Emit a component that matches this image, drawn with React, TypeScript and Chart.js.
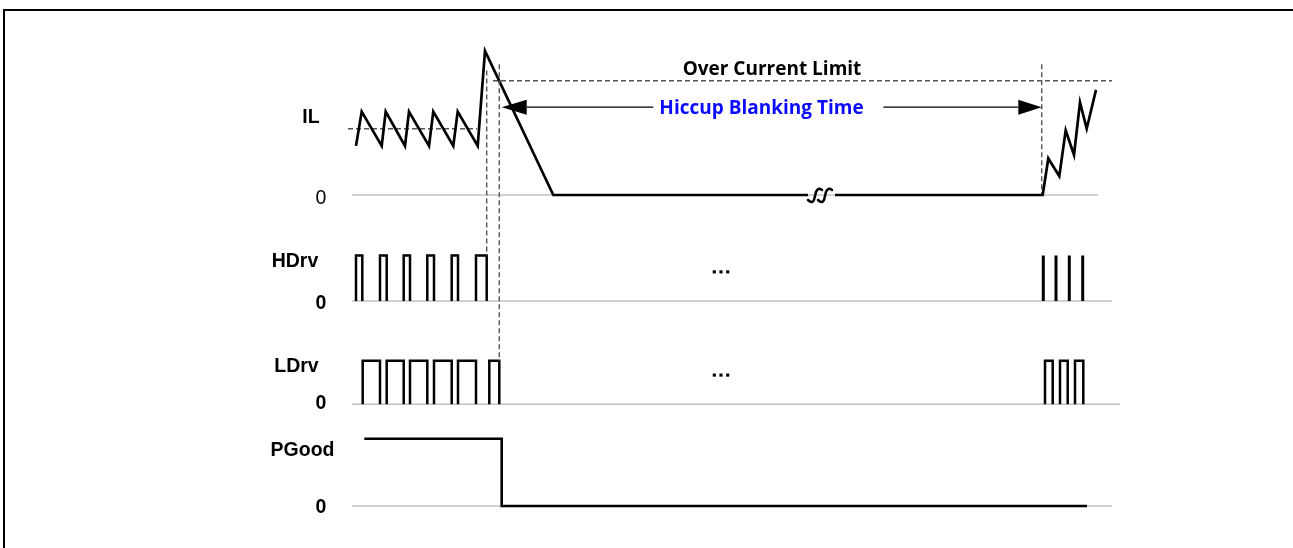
import { useEffect, useRef } from "react";
import { Chart, registerables } from "chart.js";

Chart.register(...registerables);

const W = 1293;
const H = 548;

// ---------- data (time in arbitrary units) ----------
// IL: inductor current, normalised so that Over Current Limit = 1
const ilTimesA = [356, 361.7, 381.7, 385.7, 405, 409, 429, 433.3, 453.3, 457.7, 477.7, 485, 553.3, 808];
const ilLevelsA = [0.43, 0.73, 0.43, 0.73, 0.43, 0.73, 0.43, 0.73, 0.43, 0.73, 0.43, 1.26, 0, 0];
const ilTimesB = [835, 1042.7, 1048.3, 1059.3, 1065.7, 1074, 1080, 1086.7, 1096];
const ilLevelsB = [0, 0, 0.32, 0.165, 0.565, 0.35, 0.81, 0.58, 0.92];
const ilAverageTimes = [348, 477];
const ilAverageLevel = 0.58;
const overCurrentTimes = [493, 1112];
const overCurrentLevel = 1;
const restartMarkerTime = 1041.7;
const restartMarkerTop = 1.145;

// HDrv pulses (rise / fall times), level 0/1
const hdrvRise = [356, 380, 403.7, 427.3, 451.7, 476];
const hdrvFall = [362.3, 386.7, 410, 434, 458, 486.7];
// HDrv narrow pulses after restart
const hdrvSpikes = [1043.3, 1056, 1069.3, 1082.7];

// LDrv pulses
const ldrvRise = [362.7, 386.7, 410, 434, 458, 489.3, 1045, 1060, 1075];
const ldrvFall = [380, 403.7, 427.3, 451.7, 476, 499.3, 1052.7, 1067.7, 1083.3];

// PGood
const pgTimes = [364.3, 501.7, 501.7, 1087];
const pgLevels = [1, 1, 0, 0];

// zero baselines (start / end time) per row
const baseIL = [352, 1098];
const baseHD = [352, 1112];
const baseLD = [352, 1120];
const basePG = [352, 1112];

// ellipsis dots
const dotTimes = [714.3, 721, 727.7];
const dotLevelHD = 0.64;
const dotLevelLD = 0.67;

// fault markers
const ocpTime = 486.7; // dashed from IL to HDrv
const ocpTop = 1.09;
const shutTime = 499.3; // dashed from IL to LDrv
const shutTop = 1.145;

// hiccup blanking arrow
const arrowLevel = 0.768;
const arrowTipL = 501.7;
const arrowBaseL = 526.7;
const arrowLineL = 653.3;
const arrowLineR = 883.3;
const arrowBaseR = 1018.3;
const arrowTipR = 1041.7;

// texts
const rowLabels = ["IL", "HDrv", "LDrv", "PGood"];
const zeroLabel = "0";
const overCurrentText = "Over Current Limit";
const hiccupText = "Hiccup Blanking Time";

// ---------- layout ----------
const rowLayout = {
  yIL: { base: 195, high: 80.7, highValue: 1 },
  yHD: { base: 301, high: 255.5, highValue: 1 },
  yLD: { base: 404.3, high: 360.7, highValue: 1 },
  yPG: { base: 506, high: 438.7, highValue: 1 },
};
const labelX = [311, 295, 296.5, 302.5];
const labelBase = [123, 267, 372, 456];
const zeroX = 321;
const zeroBase = [204, 309, 409, 513];

function rowScale(r: { base: number; high: number; highValue: number }) {
  const unit = (r.base - r.high) / r.highValue;
  const max = r.base / unit;
  const min = max - H / unit;
  return { type: "linear" as const, display: false, min, max };
}

function zip(ts: number[], vs: number[]) {
  return ts.map((t, i) => ({ x: t, y: vs[i] }));
}

function pulses(rise: number[], fall: number[]) {
  const out: { x: number; y: number | null }[] = [];
  rise.forEach((r, i) => {
    const f = fall[i];
    out.push({ x: r, y: 0 }, { x: r, y: 1 }, { x: f, y: 1 }, { x: f, y: 0 }, { x: f, y: null });
  });
  return out;
}

function spikes(ts: number[]) {
  const out: { x: number; y: number | null }[] = [];
  ts.forEach((t) => out.push({ x: t, y: 0 }, { x: t, y: 1 }, { x: t, y: null }));
  return out;
}

const BLACK = "#000000";
const GRAY = "#c3c3c3";
const DASH = "#555555";

const annotations = {
  id: "annotations",
  beforeDatasetsDraw(chart: any) {
    const ctx = chart.ctx;
    ctx.save();
    // frame
    ctx.strokeStyle = BLACK;
    ctx.lineWidth = 2;
    ctx.beginPath();
    ctx.moveTo(4, H);
    ctx.lineTo(4, 10);
    ctx.lineTo(W, 10);
    ctx.stroke();
    ctx.restore();
  },
  afterDatasetsDraw(chart: any) {
    const ctx = chart.ctx;
    const x = chart.scales.x;
    const yIL = chart.scales.yIL;
    const yHD = chart.scales.yHD;
    const yLD = chart.scales.yLD;
    ctx.save();
    // dashed cross-row markers
    ctx.strokeStyle = DASH;
    ctx.lineWidth = 1.4;
    ctx.setLineDash([5, 3]);
    ctx.beginPath();
    ctx.moveTo(x.getPixelForValue(ocpTime), yIL.getPixelForValue(ocpTop));
    ctx.lineTo(x.getPixelForValue(ocpTime), yHD.getPixelForValue(1));
    ctx.moveTo(x.getPixelForValue(shutTime), yIL.getPixelForValue(shutTop));
    ctx.lineTo(x.getPixelForValue(shutTime), yLD.getPixelForValue(1));
    ctx.stroke();
    ctx.setLineDash([]);

    // arrow
    const ay = yIL.getPixelForValue(arrowLevel);
    ctx.strokeStyle = BLACK;
    ctx.fillStyle = BLACK;
    ctx.lineWidth = 1.3;
    ctx.beginPath();
    ctx.moveTo(x.getPixelForValue(arrowBaseL), ay);
    ctx.lineTo(x.getPixelForValue(arrowLineL), ay);
    ctx.moveTo(x.getPixelForValue(arrowLineR), ay);
    ctx.lineTo(x.getPixelForValue(arrowBaseR), ay);
    ctx.stroke();
    const hh = 7.5;
    ctx.beginPath();
    ctx.moveTo(x.getPixelForValue(arrowTipL), ay);
    ctx.lineTo(x.getPixelForValue(arrowBaseL), ay - hh);
    ctx.lineTo(x.getPixelForValue(arrowBaseL), ay + hh);
    ctx.closePath();
    ctx.fill();
    ctx.beginPath();
    ctx.moveTo(x.getPixelForValue(arrowTipR), ay);
    ctx.lineTo(x.getPixelForValue(arrowBaseR), ay - hh);
    ctx.lineTo(x.getPixelForValue(arrowBaseR), ay + hh);
    ctx.closePath();
    ctx.fill();

    // break squiggle on IL zero line
    const sx = x.getPixelForValue(ilTimesA[ilTimesA.length - 1]);
    const sy = yIL.getPixelForValue(0);
    ctx.lineWidth = 2.5;
    ctx.lineCap = "round";
    ctx.beginPath();
    for (const dx of [0, 10]) {
      ctx.moveTo(sx + dx, sy + 5);
      ctx.quadraticCurveTo(sx + dx + 5, sy + 10, sx + dx + 6.5, sy + 3);
      ctx.lineTo(sx + dx + 8, sy - 3);
      ctx.quadraticCurveTo(sx + dx + 10, sy - 8, sx + dx + 14, sy - 5);
    }
    ctx.stroke();

    // texts
    ctx.fillStyle = BLACK;
    ctx.textAlign = "center";
    ctx.textBaseline = "alphabetic";
    ctx.font = "bold 19px 'Open Sans'";
    ctx.fillText(overCurrentText, 772, 75);
    ctx.fillStyle = "#0a0aff";
    ctx.fillText(hiccupText, 761.5, 114);

    ctx.fillStyle = BLACK;
    ctx.font = "bold 19.5px 'Liberation Sans'";
    rowLabels.forEach((t, i) => ctx.fillText(t, labelX[i], labelBase[i]));
    zeroBase.forEach((b, i) => {
      ctx.font = i === 0 ? "19.5px 'Liberation Sans'" : "bold 19.5px 'Liberation Sans'";
      ctx.fillText(zeroLabel, zeroX, b);
    });
    ctx.restore();
  },
};

export default function App() {
  const ref = useRef<HTMLCanvasElement | null>(null);
  useEffect(() => {
    if (!ref.current) return;
    const gray = (id: string, ts: number[]) => ({
      data: [{ x: ts[0], y: 0 }, { x: ts[1], y: 0 }],
      yAxisID: id,
      borderColor: GRAY,
      borderWidth: 1.5,
      pointRadius: 0,
      order: 10,
    });
    const wave = (id: string, data: any[], w = 2.3) => ({
      data,
      yAxisID: id,
      borderColor: BLACK,
      borderWidth: w,
      pointRadius: 0,
      borderJoinStyle: "miter" as const,
      order: 1,
    });
    const dashed = (id: string, data: any[]) => ({
      data,
      yAxisID: id,
      borderColor: DASH,
      borderWidth: 1.4,
      borderDash: [5, 3],
      pointRadius: 0,
      order: 5,
    });
    const ilData: any[] = [...zip(ilTimesA, ilLevelsA), { x: ilTimesA[ilTimesA.length - 1], y: null }, ...zip(ilTimesB, ilLevelsB)];
    const chart = new Chart(ref.current, {
      type: "line",
      data: {
        datasets: [
          gray("yIL", baseIL),
          gray("yHD", baseHD),
          gray("yLD", baseLD),
          gray("yPG", basePG),
          dashed("yIL", [{ x: ilAverageTimes[0], y: ilAverageLevel }, { x: ilAverageTimes[1], y: ilAverageLevel }]),
          dashed("yIL", [{ x: overCurrentTimes[0], y: overCurrentLevel }, { x: overCurrentTimes[1], y: overCurrentLevel }]),
          dashed("yIL", [{ x: restartMarkerTime, y: restartMarkerTop }, { x: restartMarkerTime, y: 0 }]),
          wave("yIL", ilData, 2.7),
          wave("yHD", pulses(hdrvRise, hdrvFall), 2.5),
          wave("yHD", spikes(hdrvSpikes), 3),
          wave("yLD", pulses(ldrvRise, ldrvFall), 2.5),
          wave("yPG", zip(pgTimes, pgLevels), 2.6),
          {
            data: dotTimes.map((t) => ({ x: t, y: dotLevelHD })),
            yAxisID: "yHD",
            showLine: false,
            pointStyle: "rect",
            pointRadius: 2.2,
            pointBorderWidth: 0,
            pointBackgroundColor: BLACK,
            borderColor: BLACK,
          },
          {
            data: dotTimes.map((t) => ({ x: t, y: dotLevelLD })),
            yAxisID: "yLD",
            showLine: false,
            pointStyle: "rect",
            pointRadius: 2.2,
            pointBorderWidth: 0,
            pointBackgroundColor: BLACK,
            borderColor: BLACK,
          },
        ] as any,
      },
      options: {
        animation: false,
        responsive: false,
        maintainAspectRatio: false,
        layout: { padding: 0, autoPadding: false },
        parsing: false as any,
        normalized: true,
        clip: false as any,
        elements: { line: { tension: 0, fill: false } },
        plugins: { legend: { display: false }, tooltip: { enabled: false } },
        events: [],
        scales: {
          x: { type: "linear", display: false, min: 0, max: W },
          yIL: rowScale(rowLayout.yIL),
          yHD: rowScale(rowLayout.yHD),
          yLD: rowScale(rowLayout.yLD),
          yPG: rowScale(rowLayout.yPG),
        },
      },
      plugins: [annotations],
    });
    return () => chart.destroy();
  }, []);
  return (
    <div style={{ position: "absolute", left: 0, top: 0, width: W, height: H, background: "#fff" }}>
      <canvas ref={ref} width={W} height={H} style={{ display: "block" }} />
    </div>
  );
}
